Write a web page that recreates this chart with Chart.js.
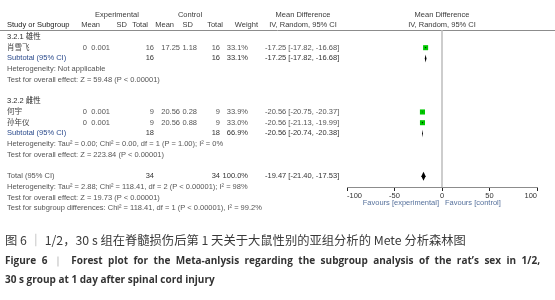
<!DOCTYPE html>
<html>
<head>
<meta charset="utf-8">
<script src="https://cdn.jsdelivr.net/npm/chart.js@4.4.1/dist/chart.umd.min.js"></script>
<style>
  html, body { margin: 0; padding: 0; background: #fff; }
  #wrap { position: relative; width: 555px; height: 300px; overflow: hidden; }
  #c { position: absolute; left: 0; top: 0; }
  .cap { position: absolute; left: 5px; white-space: nowrap; line-height: 1.2; }
  #cap1 { top: 231px; font: 12.3px "Noto Sans CJK SC", sans-serif; color: #3a3a3a; }
  #cap2 { top: 253px; width: 535px; font: bold 10px "Open Sans", sans-serif; color: #333; text-align: justify; text-align-last: justify; }
  #cap3 { top: 272px; font: bold 10px "Open Sans", sans-serif; color: #333; }
  .sep { color: #999; font-weight: normal; }
</style>
</head>
<body>
<div id="wrap">
  <canvas id="c" width="555" height="300"></canvas>
  <div class="cap" id="cap1">图 6 <span class="sep">｜</span> 1/2，30 s 组在脊髓损伤后第 1 天关于大鼠性别的亚组分析的 Mete 分析森林图</div>
  <div class="cap" id="cap2">Figure 6 <span class="sep">｜</span> Forest plot for the Meta-anlysis regarding the subgroup analysis of the rat’s sex in 1/2,</div>
  <div class="cap" id="cap3">30 s group at 1 day after spinal cord injury</div>
</div>
<script>
// ---- data ----
const groupNames = ['3.2.1 雄性', '3.2.2 雌性'];
const studyNames = ['肖雪飞', '何宇', '孙年仪'];
const studyGroup = [0, 1, 1];
const expMean = [0, 0, 0];
const expSD = [0.001, 0.001, 0.001];
const expN = [16, 9, 9];
const ctlMean = [17.25, 20.56, 20.56];
const ctlSD = [1.18, 0.28, 0.88];
const ctlN = [16, 9, 9];
const studyWeight = [33.1, 33.9, 33.0];
const studyMD = [-17.25, -20.56, -20.56];
const studyLo = [-17.82, -20.75, -21.13];
const studyHi = [-16.68, -20.37, -19.99];

const subExpN = [16, 18];
const subCtlN = [16, 18];
const subWeight = [33.1, 66.9];
const subMD = [-17.25, -20.56];
const subLo = [-17.82, -20.74];
const subHi = [-16.68, -20.38];
const subHet = ['Heterogeneity: Not applicable', 'Heterogeneity: Tau² = 0.00; Chi² = 0.00, df = 1 (P = 1.00); I² = 0%'];
const subTest = ['Test for overall effect: Z = 59.48 (P < 0.00001)', 'Test for overall effect: Z = 223.84 (P < 0.00001)'];

const totExpN = 34, totCtlN = 34, totWeight = 100.0;
const totMD = -19.47, totLo = -21.40, totHi = -17.53;
const totHet = 'Heterogeneity: Tau² = 2.88; Chi² = 118.41, df = 2 (P < 0.00001); I² = 98%';
const totTest = 'Test for overall effect: Z = 19.73 (P < 0.00001)';
const subDiffTest = 'Test for subgroup differences: Chi² = 118.41, df = 1 (P < 0.00001), I² = 99.2%';

const xTicks = [-100, -50, 0, 50, 100];
const favoursLeft = 'Favours [experimental]';
const favoursRight = 'Favours [control]';

// ---- row layout (row indices) ----
const rows = [];
let r = 0;
const studyRow = [];
groupNames.forEach((g, gi) => {
  rows.push({ type: 'group', row: r++, text: g });
  studyNames.forEach((s, si) => {
    if (studyGroup[si] === gi) { studyRow[si] = r; rows.push({ type: 'study', row: r++, i: si }); }
  });
  rows.push({ type: 'sub', row: r++, i: gi });
  rows.push({ type: 'note', row: r++, text: subHet[gi] });
  rows.push({ type: 'note', row: r++, text: subTest[gi] });
  r++; // blank
});
rows.push({ type: 'total', row: r++ });
rows.push({ type: 'note', row: r++, text: totHet });
rows.push({ type: 'note', row: r++, text: totTest });
rows.push({ type: 'note', row: r++, text: subDiffTest });

const FONT = '"Liberation Sans", Arial, "Noto Sans CJK SC", sans-serif';
const FS = 7.5;
const f2 = v => v.toFixed(2);
const ci = (m, l, h) => `${f2(m)} [${f2(l)}, ${f2(h)}]`;

const col = { name: 7, eMean: 87, eSD: 110, eN: 154, cMean: 180, cSD: 197, cN: 220, w: 248, ci: 265 };

const forestPlugin = {
  id: 'forest',
  afterDraw(chart) {
    const ctx = chart.ctx;
    const xs = chart.scales.x, ys = chart.scales.y;
    const ca = chart.chartArea;
    const yp = v => ys.getPixelForValue(v);
    ctx.save();
    // header line
    ctx.strokeStyle = '#8c8c8c'; ctx.lineWidth = 1;
    ctx.beginPath(); ctx.moveTo(0, ca.top + 0.5); ctx.lineTo(555, ca.top + 0.5); ctx.stroke();
    // zero line
    const x0 = xs.getPixelForValue(0);
    ctx.strokeStyle = '#bdbdbd'; ctx.lineWidth = 1.5;
    ctx.beginPath(); ctx.moveTo(x0, ca.top); ctx.lineTo(x0, ca.bottom); ctx.stroke();

    const txt = (s, x, y, align, bold, color) => {
      ctx.font = (bold ? 'bold ' : '') + FS + 'px ' + FONT;
      ctx.fillStyle = color || '#555';
      ctx.textAlign = align; ctx.textBaseline = 'middle';
      ctx.fillText(s, x, y);
    };
    // headers
    const h1 = 15, h2 = 25, hc = '#3a3a3a';
    txt('Experimental', 117, h1, 'center', false, hc);
    txt('Control', 190, h1, 'center', false, hc);
    txt('Mean Difference', 303, h1, 'center', false, hc);
    txt('Mean Difference', x0, h1, 'center', false, hc);
    txt('Study or Subgroup', col.name, h2, 'left', false, '#222');
    txt('Mean', 100, h2, 'right', false, hc);
    txt('SD', 127, h2, 'right', false, hc);
    txt('Total', 148, h2, 'right', false, hc);
    txt('Mean', 174, h2, 'right', false, hc);
    txt('SD', 193, h2, 'right', false, hc);
    txt('Total', 223, h2, 'right', false, hc);
    txt('Weight', 258, h2, 'right', false, hc);
    txt('IV, Random, 95% CI', 303, h2, 'center', false, hc);
    txt('IV, Random, 95% CI', x0, h2, 'center', false, hc);

    rows.forEach(o => {
      const y = yp(o.row);
      if (o.type === 'group') txt(o.text, col.name, y, 'left', false, '#2a2a2a');
      else if (o.type === 'note') txt(o.text, col.name, y, 'left', false, '#555');
      else if (o.type === 'study') {
        const i = o.i;
        txt(studyNames[i], col.name, y, 'left', false, '#444');
        txt(String(expMean[i]), col.eMean, y, 'right');
        txt(String(expSD[i]), col.eSD, y, 'right');
        txt(String(expN[i]), col.eN, y, 'right');
        txt(f2(ctlMean[i]), col.cMean, y, 'right');
        txt(f2(ctlSD[i]), col.cSD, y, 'right');
        txt(String(ctlN[i]), col.cN, y, 'right');
        txt(studyWeight[i].toFixed(1) + '%', col.w, y, 'right');
        txt(ci(studyMD[i], studyLo[i], studyHi[i]), col.ci, y, 'left');
        // CI line
        ctx.strokeStyle = '#000'; ctx.lineWidth = 1;
        ctx.beginPath(); ctx.moveTo(xs.getPixelForValue(studyLo[i]), y); ctx.lineTo(xs.getPixelForValue(studyHi[i]), y); ctx.stroke();
      } else if (o.type === 'sub' || o.type === 'total') {
        const isT = o.type === 'total';
        const i = o.i;
        txt(isT ? 'Total (95% CI)' : 'Subtotal (95% CI)', col.name, y, 'left', false, isT ? '#555' : '#2a4a8c');
        txt(String(isT ? totExpN : subExpN[i]), col.eN, y, 'right', false, '#333');
        txt(String(isT ? totCtlN : subCtlN[i]), col.cN, y, 'right', false, '#333');
        txt((isT ? totWeight : subWeight[i]).toFixed(1) + '%', col.w, y, 'right', false, '#333');
        txt(isT ? ci(totMD, totLo, totHi) : ci(subMD[i], subLo[i], subHi[i]), col.ci, y, 'left', false, '#333');
        // diamond
        const m = xs.getPixelForValue(isT ? totMD : subMD[i]);
        const l = xs.getPixelForValue(isT ? totLo : subLo[i]);
        const h = xs.getPixelForValue(isT ? totHi : subHi[i]);
        const hh = isT ? 4.5 : 4;
        ctx.fillStyle = '#000';
        ctx.beginPath();
        ctx.moveTo(l - 0.3, y); ctx.lineTo(m, y - hh); ctx.lineTo(h + 0.3, y); ctx.lineTo(m, y + hh); ctx.closePath();
        ctx.fill();
      }
    });
    // favours labels
    ctx.font = FS + 'px ' + FONT;
    ctx.fillStyle = '#56719c';
    ctx.textBaseline = 'middle';
    ctx.textAlign = 'right'; ctx.fillText(favoursLeft, x0 - 3, 203);
    ctx.textAlign = 'left'; ctx.fillText(favoursRight, x0 + 3, 203);
    ctx.restore();
  }
};

const pts = studyNames.map((s, i) => ({ x: studyMD[i], y: studyRow[i] }));
const radii = studyWeight.map(w => Math.sqrt(w) * 0.62);

new Chart(document.getElementById('c'), {
  type: 'scatter',
  data: { datasets: [{ data: pts, pointStyle: 'rect', pointRadius: radii, backgroundColor: '#00c800', borderColor: '#00c800', borderWidth: 0 }] },
  options: {
    responsive: false, animation: false, devicePixelRatio: 1,
    layout: { padding: { left: 347, right: 18, top: 30, bottom: 101 } },
    plugins: { legend: { display: false }, tooltip: { enabled: false }, title: { display: false } },
    scales: {
      x: {
        type: 'linear', min: xTicks[0], max: xTicks[xTicks.length - 1],
        afterBuildTicks: s => { s.ticks = xTicks.map(v => ({ value: v })); },
        ticks: { font: { size: FS, family: FONT }, color: '#333', align: 'inner', padding: 0, maxRotation: 0, autoSkip: false },
        grid: { drawOnChartArea: false, drawTicks: true, tickLength: 4, color: '#222', lineWidth: 1 },
        border: { display: true, color: '#8c8c8c', width: 1 },
        afterFit: s => { s.height = 12; }
      },
      y: { type: 'linear', min: -0.65, max: 14, reverse: true, display: false }
    }
  },
  plugins: [forestPlugin]
});
</script>
</body>
</html>
